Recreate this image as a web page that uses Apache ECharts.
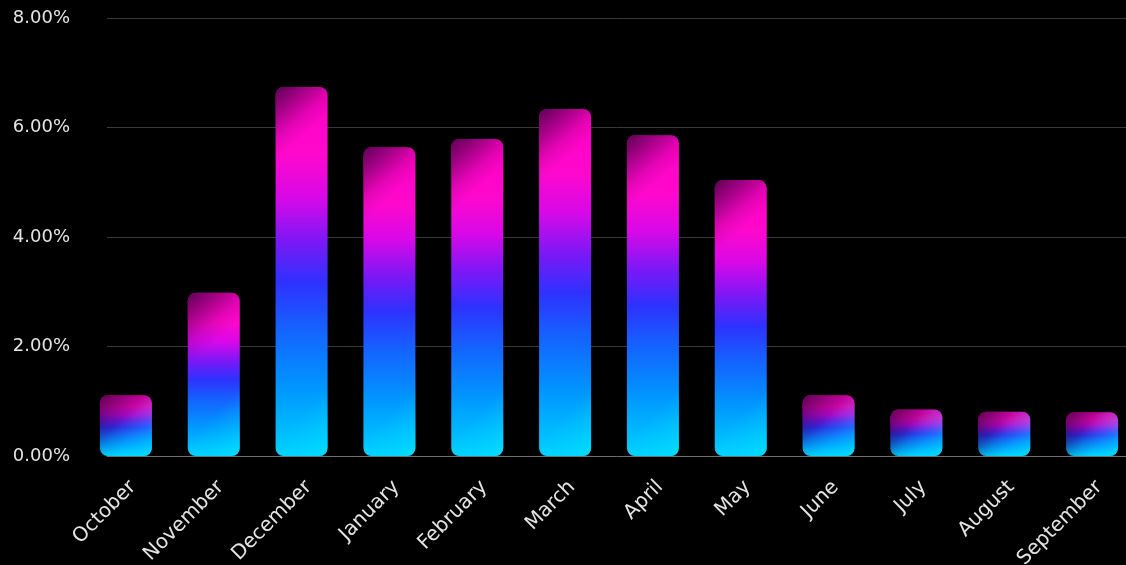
<!DOCTYPE html>
<html>
<head>
<meta charset="utf-8">
<style>
  html, body { margin: 0; padding: 0; background: #000; }
  #chart { width: 1126px; height: 565px; }
</style>
<script src="https://cdn.jsdelivr.net/npm/echarts@6/dist/echarts.min.js"></script>
</head>
<body>
<div id="chart"></div>
<script>
// Monthly share, in percent
const months = ['October', 'November', 'December', 'January', 'February', 'March',
                'April', 'May', 'June', 'July', 'August', 'September'];
const shares = [1.11, 2.98, 6.74, 5.64, 5.79, 6.34, 5.86, 5.04, 1.11, 0.85, 0.81, 0.80];
const yMin = 0;
const yMax = 8;
const yStep = 2;

const FONT = '"DejaVu Sans", sans-serif';
const CHART_H = 565;
const BAR_W = 52;
const RADIUS = 8;
const GRID_TOP = 18;
const GRID_BOTTOM = 109;
const PLOT_H = CHART_H - GRID_TOP - GRID_BOTTOM;
const BAND_LEFT = 82;
const BAND_WIDTH = 1054;

// main vertical fill: cyan at the base rising through blue and violet to magenta
const mainFill = new echarts.graphic.LinearGradient(0, 1, 0, 0, [
  { offset: 0.00, color: '#00d0ff' },
  { offset: 0.18, color: '#0098ff' },
  { offset: 0.34, color: '#1464ff' },
  { offset: 0.47, color: '#2e32ff' },
  { offset: 0.58, color: '#7a18f6' },
  { offset: 0.70, color: '#d808e8' },
  { offset: 0.82, color: '#ff08cc' },
  { offset: 1.00, color: '#ff00c4' }
]);

// Shading layers scaled to each bar's drawn height, so the top-left
// darkening and the bottom-right highlight keep a 45 degree slant.
function slant(v, reach) {
  const h = Math.max(1, (v - yMin) / (yMax - yMin) * PLOT_H);
  return Math.min(1, reach / h);
}
const shade = shares.map(v => {
  const r = slant(v, BAR_W * 1.15);
  return {
    value: v,
    itemStyle: {
      color: new echarts.graphic.LinearGradient(0, 0, 1, r, [
        { offset: 0.0, color: 'rgba(30,0,40,0.72)' },
        { offset: 0.25, color: 'rgba(30,0,40,0.42)' },
        { offset: 0.5, color: 'rgba(30,0,40,0.12)' },
        { offset: 0.7, color: 'rgba(30,0,40,0)' },
        { offset: 1.0, color: 'rgba(30,0,40,0)' }
      ])
    }
  };
});
const glow = shares.map(v => {
  const r = slant(v, BAR_W);
  return {
    value: v,
    itemStyle: {
      color: new echarts.graphic.LinearGradient(1, 1, 0, 1 - r, [
        { offset: 0.0, color: 'rgba(0,225,255,0.7)' },
        { offset: 0.3, color: 'rgba(0,225,255,0.3)' },
        { offset: 0.65, color: 'rgba(0,225,255,0)' },
        { offset: 1.0, color: 'rgba(0,225,255,0)' }
      ])
    }
  };
});

const chart = echarts.init(document.getElementById('chart'), null, { renderer: 'canvas' });

const hiddenY = { type: 'value', min: yMin, max: yMax, interval: yStep, show: false, splitLine: { show: false } };
const barBase = { type: 'bar', xAxisIndex: 1, yAxisIndex: 1, barWidth: BAR_W, barGap: '-100%' };

chart.setOption({
  backgroundColor: '#000',
  animation: false,
  grid: [
    // gridlines and y labels
    { left: 107, right: 0, top: GRID_TOP, bottom: GRID_BOTTOM, outerBoundsMode: 'none', containLabel: false },
    // bars
    { left: BAND_LEFT, width: BAND_WIDTH, top: GRID_TOP, bottom: GRID_BOTTOM, outerBoundsMode: 'none', containLabel: false },
    // month labels, set slightly right of the bar centres
    { left: BAND_LEFT + 7, width: BAND_WIDTH, top: GRID_TOP, bottom: GRID_BOTTOM, outerBoundsMode: 'none', containLabel: false }
  ],
  xAxis: [
    {
      gridIndex: 0, type: 'category', data: months,
      axisLine: { show: true, lineStyle: { color: '#6e6e6e', width: 1 } },
      axisTick: { show: false }, axisLabel: { show: false }, splitLine: { show: false }
    },
    {
      gridIndex: 1, type: 'category', data: months,
      axisLine: { show: false }, axisTick: { show: false }, axisLabel: { show: false }
    },
    {
      gridIndex: 2, type: 'category', data: months,
      axisLine: { show: false }, axisTick: { show: false },
      axisLabel: {
        rotate: 45, color: '#e4e4e4', fontSize: 20, fontFamily: FONT, margin: 28,
        interval: 0, hideOverlap: false
      }
    }
  ],
  yAxis: [
    {
      gridIndex: 0, type: 'value', min: yMin, max: yMax, interval: yStep,
      axisLine: { show: false }, axisTick: { show: false },
      axisLabel: {
        color: '#e4e4e4', fontSize: 18, fontFamily: FONT, margin: 37,
        formatter: v => v.toFixed(2) + '%'
      },
      splitLine: { lineStyle: { color: '#383838', width: 1 } }
    },
    Object.assign({ gridIndex: 1 }, hiddenY),
    Object.assign({ gridIndex: 2 }, hiddenY)
  ],
  series: [
    Object.assign({ data: shares, itemStyle: { color: mainFill, borderRadius: RADIUS } }, barBase),
    Object.assign({ data: shade, silent: true, itemStyle: { borderRadius: RADIUS } }, barBase),
    Object.assign({ data: glow, silent: true, itemStyle: { borderRadius: RADIUS } }, barBase)
  ]
});
</script>
</body>
</html>
